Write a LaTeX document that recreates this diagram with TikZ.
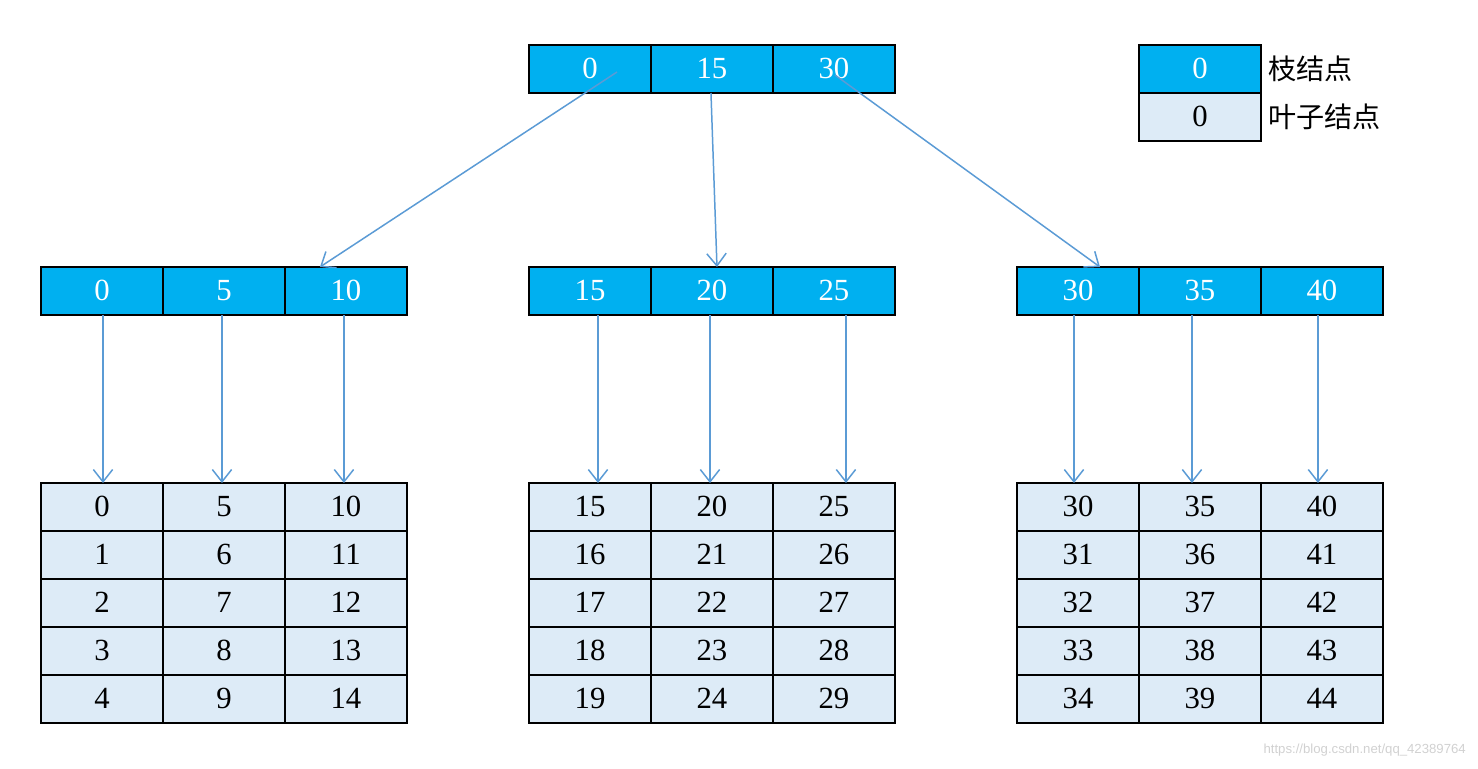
\documentclass[tikz,border=0pt]{standalone}
\usepackage{fontspec}
\setmainfont{Liberation Serif}
\newfontfamily\cjk{Noto Sans CJK SC}
\newfontfamily\markfont{Liberation Sans}
\usepackage{tikz}
\usetikzlibrary{arrows.meta, positioning}
\definecolor{branchblue}{HTML}{00B0F0}
\definecolor{leafblue}{HTML}{DDEBF7}
\definecolor{linkblue}{HTML}{5B9BD5}
\tikzstyle{cell} = [rectangle, draw, line width=1.1pt, outer sep=0pt, minimum width=2.44cm, minimum height=0.96cm, text height=1.05em, text depth=0pt, font=\fontsize{17.5}{20}\selectfont]
\tikzstyle{branch} = [cell, fill=branchblue, text=white]
\tikzstyle{leaf} = [cell, fill=leafblue, text=black]
\tikzstyle{keytext} = [inner sep=4pt, font=\cjk\fontsize{16}{18}\selectfont]
\tikzstyle{arrow} = [draw=linkblue, line width=0.85pt, -{Straight Barb[length=7pt, width=11pt]}]

\begin{document}
\begin{tikzpicture}[x=0.02cm, y=-0.02cm]
    \useasboundingbox (0,0) rectangle (1478,768);

    % Root
    \node (r0) [branch] at (590,69) {0};
    \node (r1) [branch, right=0pt of r0] {15};
    \node (r2) [branch, right=0pt of r1] {30};

    % Branch nodes
    \node (a0) [branch] at (102,291) {0};
    \node (a1) [branch, right=0pt of a0] {5};
    \node (a2) [branch, right=0pt of a1] {10};

    \node (b0) [branch] at (590,291) {15};
    \node (b1) [branch, right=0pt of b0] {20};
    \node (b2) [branch, right=0pt of b1] {25};

    \node (c0) [branch] at (1078,291) {30};
    \node (c1) [branch, right=0pt of c0] {35};
    \node (c2) [branch, right=0pt of c1] {40};

    % Leaf nodes, left
    \node (a0_0) [leaf] at (102,507) {0};
    \node (a0_1) [leaf, below=0pt of a0_0] {1};
    \node (a0_2) [leaf, below=0pt of a0_1] {2};
    \node (a0_3) [leaf, below=0pt of a0_2] {3};
    \node (a0_4) [leaf, below=0pt of a0_3] {4};
    \node (a1_0) [leaf, right=0pt of a0_0] {5};
    \node (a1_1) [leaf, below=0pt of a1_0] {6};
    \node (a1_2) [leaf, below=0pt of a1_1] {7};
    \node (a1_3) [leaf, below=0pt of a1_2] {8};
    \node (a1_4) [leaf, below=0pt of a1_3] {9};
    \node (a2_0) [leaf, right=0pt of a1_0] {10};
    \node (a2_1) [leaf, below=0pt of a2_0] {11};
    \node (a2_2) [leaf, below=0pt of a2_1] {12};
    \node (a2_3) [leaf, below=0pt of a2_2] {13};
    \node (a2_4) [leaf, below=0pt of a2_3] {14};

    % Leaf nodes, middle
    \node (b0_0) [leaf] at (590,507) {15};
    \node (b0_1) [leaf, below=0pt of b0_0] {16};
    \node (b0_2) [leaf, below=0pt of b0_1] {17};
    \node (b0_3) [leaf, below=0pt of b0_2] {18};
    \node (b0_4) [leaf, below=0pt of b0_3] {19};
    \node (b1_0) [leaf, right=0pt of b0_0] {20};
    \node (b1_1) [leaf, below=0pt of b1_0] {21};
    \node (b1_2) [leaf, below=0pt of b1_1] {22};
    \node (b1_3) [leaf, below=0pt of b1_2] {23};
    \node (b1_4) [leaf, below=0pt of b1_3] {24};
    \node (b2_0) [leaf, right=0pt of b1_0] {25};
    \node (b2_1) [leaf, below=0pt of b2_0] {26};
    \node (b2_2) [leaf, below=0pt of b2_1] {27};
    \node (b2_3) [leaf, below=0pt of b2_2] {28};
    \node (b2_4) [leaf, below=0pt of b2_3] {29};

    % Leaf nodes, right
    \node (c0_0) [leaf] at (1078,507) {30};
    \node (c0_1) [leaf, below=0pt of c0_0] {31};
    \node (c0_2) [leaf, below=0pt of c0_1] {32};
    \node (c0_3) [leaf, below=0pt of c0_2] {33};
    \node (c0_4) [leaf, below=0pt of c0_3] {34};
    \node (c1_0) [leaf, right=0pt of c0_0] {35};
    \node (c1_1) [leaf, below=0pt of c1_0] {36};
    \node (c1_2) [leaf, below=0pt of c1_1] {37};
    \node (c1_3) [leaf, below=0pt of c1_2] {38};
    \node (c1_4) [leaf, below=0pt of c1_3] {39};
    \node (c2_0) [leaf, right=0pt of c1_0] {40};
    \node (c2_1) [leaf, below=0pt of c2_0] {41};
    \node (c2_2) [leaf, below=0pt of c2_1] {42};
    \node (c2_3) [leaf, below=0pt of c2_2] {43};
    \node (c2_4) [leaf, below=0pt of c2_3] {44};

    % Legend
    \node (key_branch) [branch] at (1200,69) {0};
    \node (key_leaf) [leaf, below=0pt of key_branch] {0};
    \node (key_branch_txt) [keytext, right=0pt of key_branch] {枝结点};
    \node (key_leaf_txt) [keytext, right=0pt of key_leaf] {叶子结点};

    % Watermark
    \node (mark) [anchor=east, text=black!18, font=\markfont\fontsize{7.5}{9}\selectfont] at (1472,750) {https://blog.csdn.net/qq\_42389764};

    % ==== Arrows
    % Root to branches
    \draw [arrow] ([shift={(27,3)}]r0.center) -- ([shift={(-26,0)}]a2.north);
    \draw [arrow] ([shift={(-1,0)}]r1.south) -- ([shift={(5,0)}]b1.north);
    \draw [arrow] ([shift={(1,6)}]r2.center) -- ([shift={(22,0)}]c0.north);

    % Branches to leaves
    \draw [arrow] ([shift={(1,0)}]a0.south) -- ([shift={(1,0)}]a0_0.north);
    \draw [arrow] ([shift={(-2,0)}]a1.south) -- ([shift={(-2,0)}]a1_0.north);
    \draw [arrow] ([shift={(-2,0)}]a2.south) -- ([shift={(-2,0)}]a2_0.north);
    \draw [arrow] ([shift={(8,0)}]b0.south) -- ([shift={(8,0)}]b0_0.north);
    \draw [arrow] ([shift={(-2,0)}]b1.south) -- ([shift={(-2,0)}]b1_0.north);
    \draw [arrow] ([shift={(12,0)}]b2.south) -- ([shift={(12,0)}]b2_0.north);
    \draw [arrow] ([shift={(-4,0)}]c0.south) -- ([shift={(-4,0)}]c0_0.north);
    \draw [arrow] ([shift={(-8,0)}]c1.south) -- ([shift={(-8,0)}]c1_0.north);
    \draw [arrow] ([shift={(-4,0)}]c2.south) -- ([shift={(-4,0)}]c2_0.north);

\end{tikzpicture}
\end{document}
